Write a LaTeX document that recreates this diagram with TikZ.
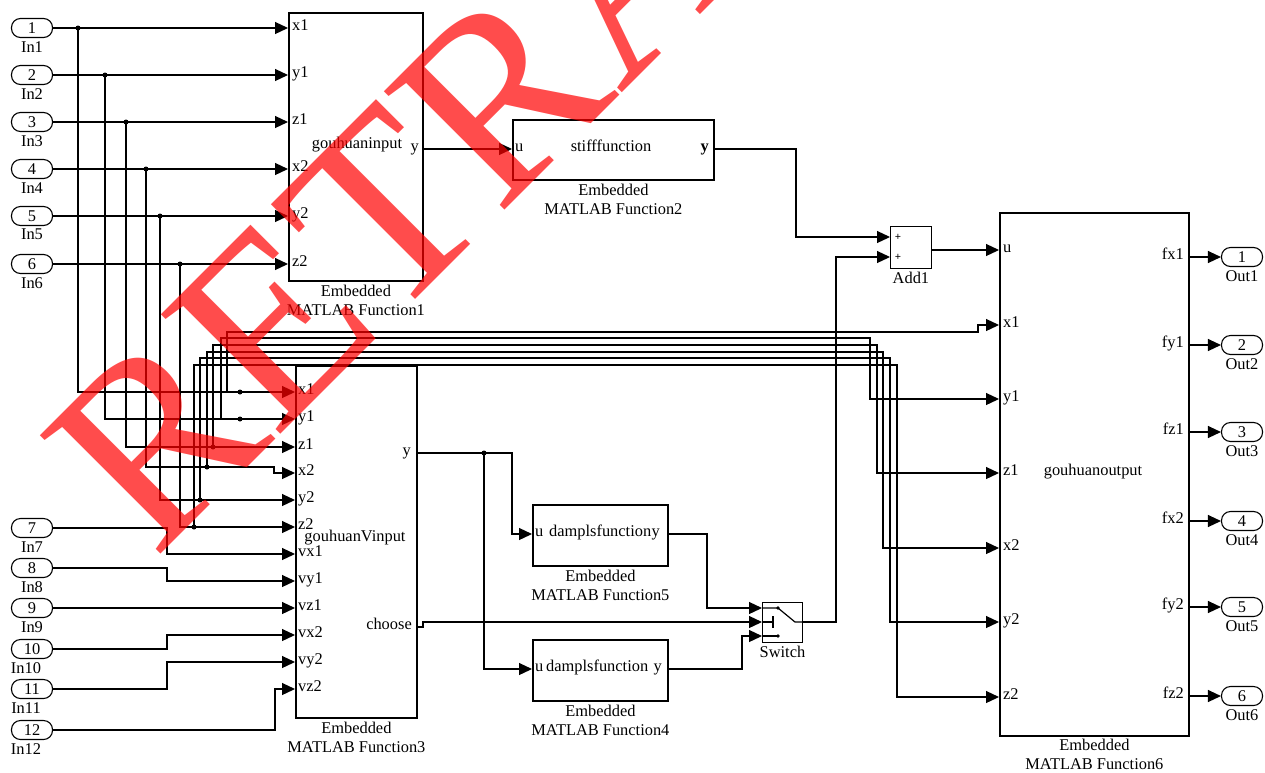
\documentclass[tikz,border=0pt]{standalone}
\usepackage{fontspec}
\setmainfont{Liberation Serif}
\usetikzlibrary{arrows.meta, positioning, calc}

\begin{document}
\begin{tikzpicture}[
    x=1pt, y=-1pt,
    every node/.style={font=\fontsize{16.4}{19.5}\selectfont, inner sep=0pt},
    blk/.style={draw, line width=1.8pt, anchor=north west},
    sbox/.style={draw, line width=0.9pt, anchor=north west},
    pill/.style={draw, line width=1.1pt, rounded corners=9pt, minimum width=41pt, minimum height=19pt},
    port/.style={pill, label={[label distance=3pt]below:#1}},
    wport/.style={pill, label={[label distance=3pt, xshift=-6pt]below:#1}},
    sig/.style={line width=1.2pt},
    arr/.style={sig, -{Triangle[length=13pt, width=12pt]}},
    dot/.style={circle, fill, minimum size=5pt},
    pl/.style={anchor=west, text height=1.6ex, text depth=0.3ex},
    pr/.style={pl, anchor=east},
    blkname/.style={align=center}
]
    \useasboundingbox (0,0) rectangle (1265,772);

    % blocks
    \node[blk, minimum width=134pt, minimum height=268pt] (f1) at (288,12) {};
    \node[blk, minimum width=201pt, minimum height=60pt] (f2) at (512,119) {};
    \node[blk, minimum width=121pt, minimum height=352pt] (f3) at (295,365) {};
    \node[blk, minimum width=135pt, minimum height=61pt] (f5) at (532,504) {};
    \node[blk, minimum width=135pt, minimum height=61pt] (f4) at (532,639) {};
    \node[blk, minimum width=189pt, minimum height=523pt] (f6) at (999,212) {};
    \node[sbox, minimum width=41pt, minimum height=42pt] (add) at (890,226) {};
    \node[sbox, minimum width=40pt, minimum height=40pt] (sw) at (762,602) {};

    \node[blkname, below=3pt of f1] {Embedded\\MATLAB Function1};
    \node[blkname, below=3pt of f2] {Embedded\\MATLAB Function2};
    \node[blkname, below=3pt of f3] {Embedded\\MATLAB Function3};
    \node[blkname, below=3pt of f5] {Embedded\\MATLAB Function5};
    \node[blkname, below=3pt of f4] {Embedded\\MATLAB Function4};
    \node[blkname, below=2pt of f6] {Embedded\\MATLAB Function6};
    \node[below=3pt of add] {Add1};
    \node[below=3pt of sw] {Switch};

    % texts inside the blocks
    \node at (357,145) {gouhuaninput};
    \node[pl] at (292,28) {x1};
    \node[pl] at (292,75) {y1};
    \node[pl] at (292,122) {z1};
    \node[pl] at (292,169) {x2};
    \node[pl] at (292,216) {y2};
    \node[pl] at (292,264) {z2};
    \node[pr] at (419,149) {y};

    \node at (611,146) {stifffunction};
    \node[pl] at (515,149) {u};
    \node[pr] at (709,149) {\textbf{y}};

    \node at (355,538) {gouhuanVinput};
    \node[pl] at (298,392) {x1};
    \node[pl] at (298,419) {y1};
    \node[pl] at (298,447) {z1};
    \node[pl] at (298,473) {x2};
    \node[pl] at (298,500) {y2};
    \node[pl] at (298,527) {z2};
    \node[pl] at (298,554) {vx1};
    \node[pl] at (298,581) {vy1};
    \node[pl] at (298,608) {vz1};
    \node[pl] at (298,635) {vx2};
    \node[pl] at (298,662) {vy2};
    \node[pl] at (298,689) {vz2};
    \node[pr] at (411,453) {y};
    \node[pr] at (412,627) {choose};

    \node[pl] at (535,534) {u};
    \node[pl] at (549,534) {damplsfunction};
    \node[pr] at (660,534) {y};
    \node[pl] at (535,669) {u};
    \node[pl] at (546,669) {damplsfunction};
    \node[pr] at (662,669) {y};

    \node at (1093,472) {gouhuanoutput};
    \node[pl] at (1003,250) {u};
    \node[pl] at (1003,325) {x1};
    \node[pl] at (1003,399) {y1};
    \node[pl] at (1003,473) {z1};
    \node[pl] at (1003,548) {x2};
    \node[pl] at (1003,622) {y2};
    \node[pl] at (1003,697) {z2};
    \node[pr] at (1184,257) {fx1};
    \node[pr] at (1184,345) {fy1};
    \node[pr] at (1184,432) {fz1};
    \node[pr] at (1184,521) {fx2};
    \node[pr] at (1184,607) {fy2};
    \node[pr] at (1184,696) {fz2};

    \node[font=\fontsize{11}{11}\selectfont\bfseries] at (898,237) {+};
    \node[font=\fontsize{11}{11}\selectfont\bfseries] at (898,257) {+};

    % switch symbol
    \draw[sig] (sw.west |- 0,608) -- (778,608) -- (795,622) -- (sw.east |- 0,622);
    \fill (778,608) circle (1.8);
    \draw[sig] (sw.west |- 0,622) -- (773,622);
    \draw[sig] (773,616) -- (773,628);
    \draw[sig] (sw.west |- 0,636) -- (778,636);
    \fill (778,636) circle (1.8);

    % in and out ports
    \node[port=In1] (in1) at (32,28) {1};
    \node[port=In2] (in2) at (32,75) {2};
    \node[port=In3] (in3) at (32,122) {3};
    \node[port=In4] (in4) at (32,169) {4};
    \node[port=In5] (in5) at (32,216) {5};
    \node[port=In6] (in6) at (32,264) {6};
    \node[port=In7] (in7) at (32,528) {7};
    \node[port=In8] (in8) at (32,568) {8};
    \node[port=In9] (in9) at (32,608) {9};
    \node[wport=In10] (in10) at (32,649) {10};
    \node[wport=In11] (in11) at (32,689) {11};
    \node[wport=In12] (in12) at (32,730) {12};
    \node[port=Out1] (out1) at (1242,257) {1};
    \node[port=Out2] (out2) at (1242,345) {2};
    \node[port=Out3] (out3) at (1242,432) {3};
    \node[port=Out4] (out4) at (1242,521) {4};
    \node[port=Out5] (out5) at (1242,607) {5};
    \node[port=Out6] (out6) at (1242,696) {6};

    % inputs of function1
    \draw[arr] (in1) -- (in1 -| f1.west);
    \draw[arr] (in2) -- (in2 -| f1.west);
    \draw[arr] (in3) -- (in3 -| f1.west);
    \draw[arr] (in4) -- (in4 -| f1.west);
    \draw[arr] (in5) -- (in5 -| f1.west);
    \draw[arr] (in6) -- (in6 -| f1.west);

    \node[dot] (b1) at (78,28) {};
    \node[dot] (b2) at (105,75) {};
    \node[dot] (b3) at (126,122) {};
    \node[dot] (b4) at (146,169) {};
    \node[dot] (b5) at (160,216) {};
    \node[dot] (b6) at (180,264) {};
    \draw[arr] (b1.center) |- (f3.west |- 0,392);
    \draw[arr] (b2.center) |- (f3.west |- 0,419);
    \draw[arr] (b3.center) |- (f3.west |- 0,447);
    \draw[arr] (b4.center) -- (146,467) -- (274,467) -- (274,473) -- (f3.west |- 0,473);
    \draw[arr] (b5.center) |- (f3.west |- 0,500);
    \draw[arr] (b6.center) |- (f3.west |- 0,527);

    \draw[arr] (in7) -- (167,528) |- (f3.west |- 0,554);
    \draw[arr] (in8) -- (167,568) |- (f3.west |- 0,581);
    \draw[arr] (in9) -- (in9 -| f3.west);
    \draw[arr] (in10) -- (167,649) |- (f3.west |- 0,635);
    \draw[arr] (in11) -- (167,689) |- (f3.west |- 0,662);
    \draw[arr] (in12) -- (275,730) |- (f3.west |- 0,689);

    % positions to function6
    \node[dot] (c1) at (240,392) {};
    \node[dot] (c2) at (240,419) {};
    \node[dot] (c3) at (213,447) {};
    \node[dot] (c4) at (207,467) {};
    \node[dot] (c5) at (200,500) {};
    \node[dot] (c6) at (194,527) {};
    \draw[arr] (c1.center) -- (227,392) -- (227,332) -- (978,332) -- (978,325) -- (f6.west |- 0,325);
    \draw[arr] (c2.center) -- (221,419) -- (221,338) -- (870,338) |- (f6.west |- 0,399);
    \draw[arr] (c3.center) -- (213,345) -- (877,345) |- (f6.west |- 0,473);
    \draw[arr] (c4.center) -- (207,352) -- (883,352) |- (f6.west |- 0,548);
    \draw[arr] (c5.center) -- (200,358) -- (890,358) |- (f6.west |- 0,622);
    \draw[arr] (c6.center) -- (194,365) -- (897,365) |- (f6.west |- 0,697);

    % stiffness and damping
    \draw[arr] (f1.east |- 0,149) -- (f2.west |- 0,149);
    \draw[arr] (f2.east |- 0,149) -- (796,149) |- (add.west |- 0,237);
    \draw[arr] (f3.east |- 0,453) -- (512,453) |- (f5.west |- 0,534);
    \node[dot] (c7) at (484,453) {};
    \draw[arr] (c7.center) |- (f4.west |- 0,669);
    \draw[arr] (f5.east |- 0,534) -- (707,534) |- (sw.west |- 0,608);
    \draw[arr] (f3.east |- 0,627) -- (423,627) |- (sw.west |- 0,622);
    \draw[arr] (f4.east |- 0,669) -- (742,669) |- (sw.west |- 0,636);
    \draw[arr] (sw.east |- 0,622) -- (836,622) |- (add.west |- 0,257);
    \draw[arr] (add.east |- 0,250) -- (f6.west |- 0,250);

    % outputs
    \draw[arr] (f6.east |- out1) -- (out1);
    \draw[arr] (f6.east |- out2) -- (out2);
    \draw[arr] (f6.east |- out3) -- (out3);
    \draw[arr] (f6.east |- out4) -- (out4);
    \draw[arr] (f6.east |- out5) -- (out5);
    \draw[arr] (f6.east |- out6) -- (out6);

    % watermark
    \begin{scope}
        \clip (0,0) rectangle (1265,772);
        \node[anchor=base west, rotate=45, text=red, text opacity=0.7,
            font=\fontsize{258}{260}\selectfont] (wm) at (154,561) {RETRACTED};
    \end{scope}
\end{tikzpicture}
\end{document}
